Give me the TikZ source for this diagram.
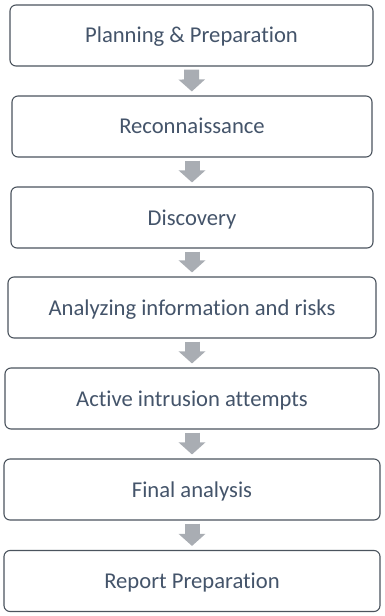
\documentclass[tikz,border=0pt]{standalone}
\usepackage{fontspec}
\setmainfont{Carlito}[Ligatures=NoCommon]
\definecolor{stepText}{HTML}{44546A}
\definecolor{stepBorder}{HTML}{4B545E}
\definecolor{stepArrow}{HTML}{A9ADB3}
\usepackage{tikz}
\usetikzlibrary{arrows.meta, positioning}

\begin{document}
\begin{tikzpicture}[x=1bp, y=-1bp,
    stepbox/.style={draw=stepBorder, line width=1.1bp, fill=white, rounded corners=6bp,
        minimum height=61bp, inner sep=0pt, text=stepText,
        font=\fontsize{22.7}{27}\selectfont, text height=15bp, text depth=0pt},
    flowarrow/.style={draw=stepArrow, line width=15bp,
        -{Triangle[length=12bp, width=26bp, fill=stepArrow]},
        shorten <=3bp, shorten >=4bp}]
        \useasboundingbox (0,0) rectangle (384,616);

        % Steps
        \node[stepbox, minimum width=363bp] (plan) at (191.5,35.5) {Planning \& Preparation};
        \node[stepbox, minimum width=360bp] (recon) at (192,126.5) {Reconnaissance};
        \node[stepbox, minimum width=362bp] (disc) at (192,217.5) {Discovery};
        \node[stepbox, minimum width=368bp] (analyze) at (192,307.5) {Analyzing information and risks};
        \node[stepbox, minimum width=374bp] (intrude) at (192,398.5) {Active intrusion attempts};
        \node[stepbox, minimum width=376bp] (final) at (192,489.5) {Final analysis};
        \node[stepbox, minimum width=376bp] (report) at (192,581) {Report Preparation};

        % Arrows
        \draw[flowarrow] (plan) -- (recon);
        \draw[flowarrow] (recon) -- (disc);
        \draw[flowarrow] (disc) -- (analyze);
        \draw[flowarrow] (analyze) -- (intrude);
        \draw[flowarrow] (intrude) -- (final);
        \draw[flowarrow] (final) -- (report);
    \end{tikzpicture}
\end{document}
